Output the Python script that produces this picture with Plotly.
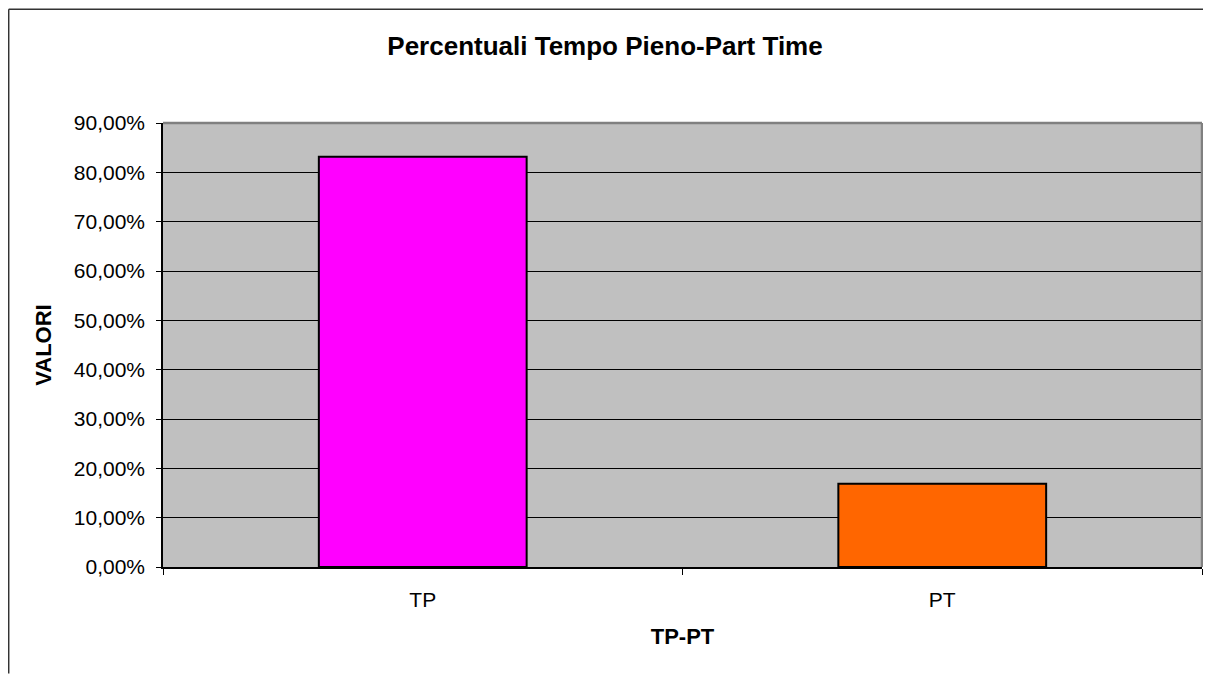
import plotly.graph_objects as go

categories = ["TP", "PT"]
values = [0.8314, 0.1686]
bar_colors = ["#FF00FF", "#FF6600"]
y_tick_vals = [0, 0.1, 0.2, 0.3, 0.4, 0.5, 0.6, 0.7, 0.8, 0.9]

# page body has an 8px margin; figure coordinates are page coordinates minus 8
W, H = 1203, 666
L, R, T, B = 155, 1193.7, 114.7, 559.3
pw, ph = R - L, B - T

def px_x(p):
    return (p - L) / pw

def px_y(p):
    return (B - p) / ph

fig = go.Figure()
fig.add_trace(go.Bar(
    x=categories, y=values, width=0.4,
    marker=dict(color=bar_colors, line=dict(color="black", width=2)),
    hoverinfo="x+y",
))

FONT = "Liberation Sans, Arial, sans-serif"

fig.update_layout(
    width=W, height=H,
    margin=dict(l=L, r=W - R, t=T, b=H - B, pad=0),
    paper_bgcolor="white",
    plot_bgcolor="#C0C0C0",
    separators=",.",
    showlegend=False,
    font=dict(family=FONT, color="black", size=21),
    title=dict(text="<b>Percentuali Tempo Pieno-Part Time</b>",
               x=(605 - 8) / W, xanchor="center", xref="container",
               y=1 - 38 / H, yanchor="middle", yref="container",
               font=dict(size=26, family=FONT, color="black")),
)

fig.update_xaxes(
    type="category",
    showgrid=False,
    showline=True, linecolor="black", linewidth=1.5,
    ticks="outside", ticklen=6, tickcolor="black", tickwidth=1,
    tickson="boundaries",
    tickfont=dict(size=21, family=FONT),
    ticklabelstandoff=13,
    title=dict(text="<b>TP-PT</b>", font=dict(size=22, family=FONT), standoff=19),
    zeroline=False,
)

fig.update_yaxes(
    range=[0, 0.9],
    tickvals=y_tick_vals,
    tickformat=".2%",
    showgrid=True, gridcolor="black", gridwidth=1,
    showline=True, linecolor="black", linewidth=1.5,
    ticks="outside", ticklen=5, tickcolor="black", tickwidth=1,
    tickfont=dict(size=21, family=FONT),
    ticklabelstandoff=7,
    title=dict(text="<b>VALORI</b>", font=dict(size=22, family=FONT), standoff=16),
    zeroline=False,
)

# plot-area border (top and right, grey)
fig.add_shape(type="line", xref="paper", yref="paper", x0=0, x1=1, y0=1, y1=1,
              line=dict(color="#808080", width=2.5), layer="above")
fig.add_shape(type="line", xref="paper", yref="paper", x0=1, x1=1, y0=0, y1=1,
              line=dict(color="#808080", width=2.5), layer="above")

# outer chart border: only its top and left edges are inside the window
fig.add_shape(type="line", xref="paper", yref="paper",
              x0=px_x(0.75), x1=px_x(W), y0=px_y(0.75), y1=px_y(0.75),
              line=dict(color="#333333", width=1.5), layer="below")
fig.add_shape(type="line", xref="paper", yref="paper",
              x0=px_x(0.75), x1=px_x(0.75), y0=px_y(0.75), y1=px_y(H),
              line=dict(color="#333333", width=1.5), layer="below")

fig.write_html("out.html")
